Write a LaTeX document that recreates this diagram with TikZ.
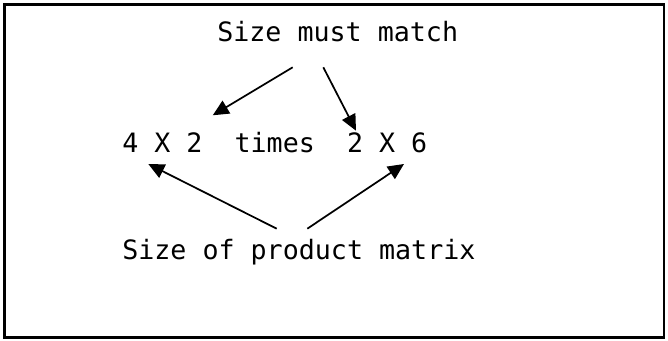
\documentclass[tikz,border=0pt]{standalone}
\usepackage{fontspec}
\setmonofont{DejaVu Sans Mono}
\usetikzlibrary{arrows.meta}

\tikzset{
  monotext/.style={font=\ttfamily\fontsize{20}{24}\selectfont, inner sep=0pt, anchor=base west},
  pointer/.style={-{Triangle[length=12pt, width=11pt]}, line width=1.3pt}
}

\begin{document}
\begin{tikzpicture}[x=0.75pt, y=-0.75pt]
  \useasboundingbox (0,0) rectangle (668,341);
  \draw[line width=1.8pt] (4.5,4.5) rectangle (664,337.5);

  \node[monotext] (match) at (217,42) {Size must match};
  \node[monotext] (sizes) at (122,153) {4 X 2~~times~~2 X 6};
  \node[monotext] (product) at (122,260) {Size of product matrix};

  % ends of the arrows
  \coordinate (matchL) at (292.7,67.3);
  \coordinate (matchR) at (323.3,67.3);
  \coordinate (inner2) at (212.7,115.3);
  \coordinate (inner2b) at (356,130.7);
  \coordinate (prodL) at (276.7,228.7);
  \coordinate (prodR) at (307.3,228.7);
  \coordinate (rows4) at (148.3,164);
  \coordinate (cols6) at (404,164);

  \draw[pointer] (matchL) -- (inner2);
  \draw[pointer] (matchR) -- (inner2b);
  \draw[pointer] (prodL) -- (rows4);
  \draw[pointer] (prodR) -- (cols6);
\end{tikzpicture}
\end{document}
